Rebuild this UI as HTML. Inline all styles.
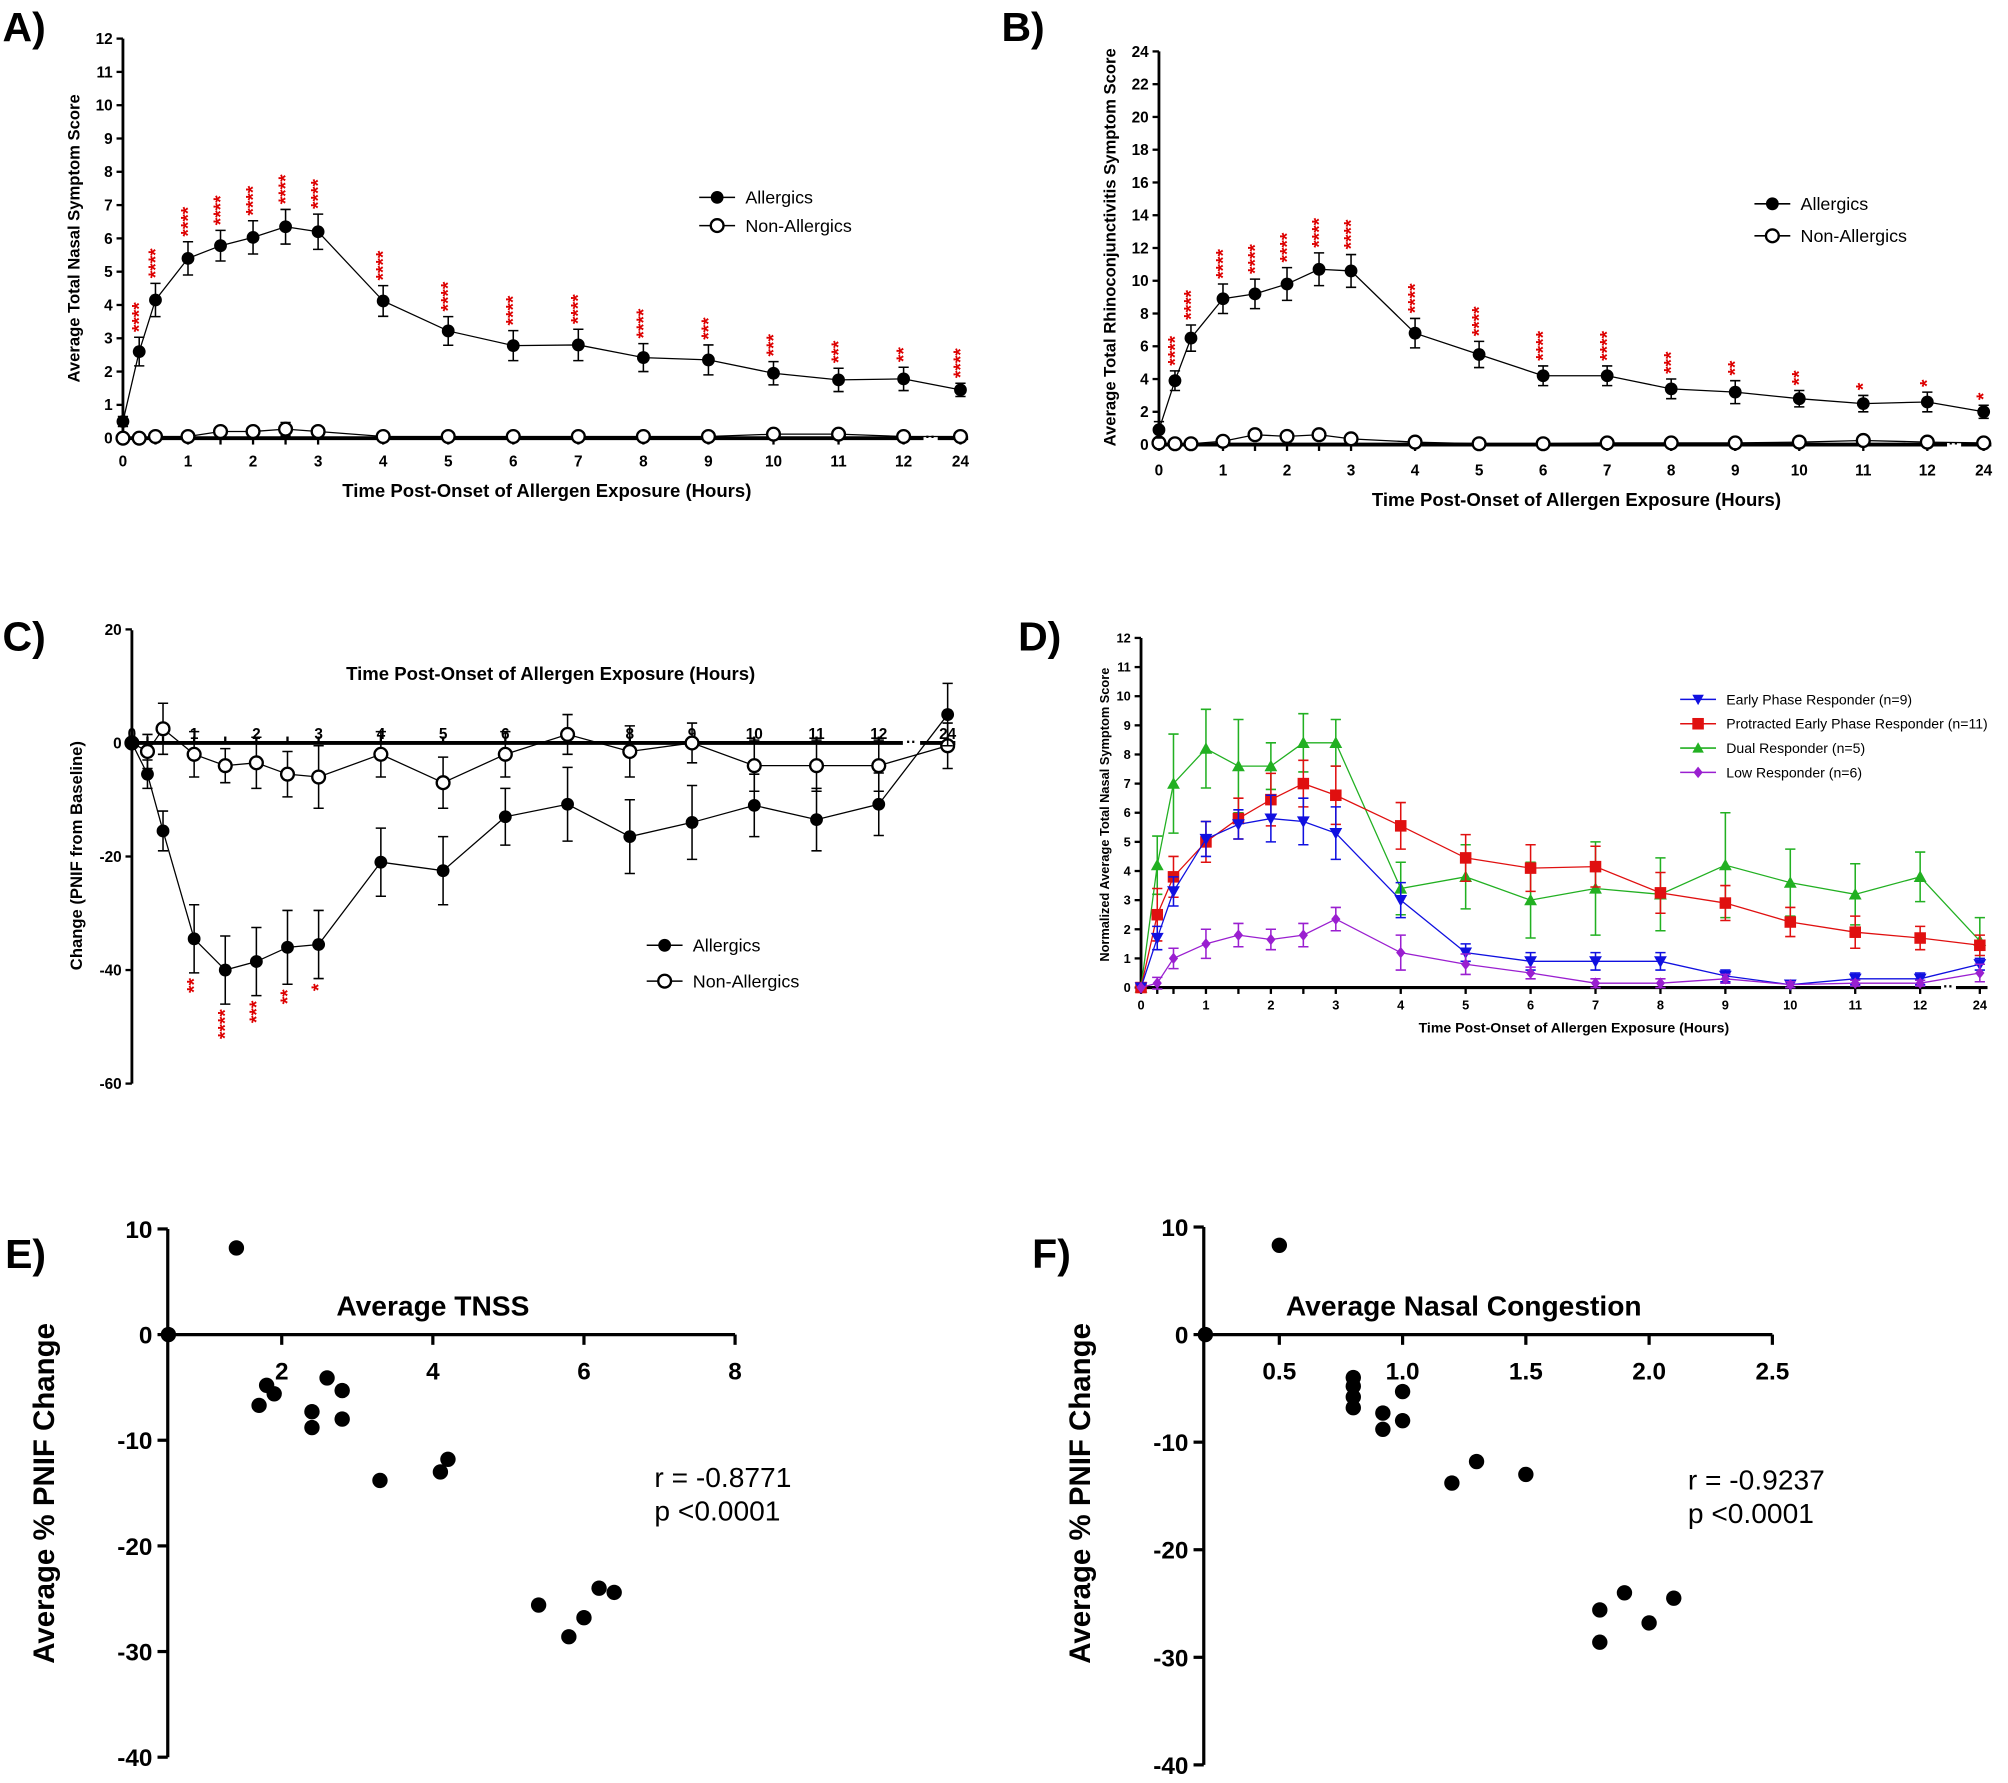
<!DOCTYPE html>
<html><head><meta charset="utf-8"><style>
html,body{margin:0;padding:0;background:#fff}
svg{display:block;font-family:"Liberation Sans",Arial,sans-serif}
</style></head><body>
<svg id="fig" width="2008" height="1783" viewBox="0 0 1568 1392" xmlns="http://www.w3.org/2000/svg"></svg>
<script>
// ---------- data ----------
const timesHrs = [0,0.25,0.5,1,1.5,2,2.5,3,4,5,6,7,8,9,10,11,12,24];
const timeTickLabels = ['0','1','2','3','4','5','6','7','8','9','10','11','12','24'];
// Panel A
const aAllergic = [0.5,2.6,4.15,5.4,5.78,6.03,6.35,6.2,4.12,3.22,2.78,2.8,2.42,2.35,1.95,1.75,1.78,1.45];
const aAllergicErr = [0.15,0.43,0.5,0.5,0.46,0.5,0.52,0.53,0.46,0.43,0.45,0.47,0.42,0.45,0.35,0.35,0.35,0.2];
const aNon = [0,0,0.05,0.05,0.2,0.2,0.27,0.2,0.05,0.05,0.05,0.05,0.05,0.05,0.12,0.12,0.05,0.05];
const aNonErr = [0,0,0,0.05,0.1,0.1,0.2,0.12,0,0,0,0,0,0,0.05,0.05,0,0];
const aStars = [0,4,4,4,4,4,4,4,4,4,4,4,4,3,3,3,2,4];
const aYTicks = [0,1,2,3,4,5,6,7,8,9,10,11,12];
// Panel B
const bAllergic = [0.9,3.9,6.5,8.9,9.2,9.8,10.7,10.6,6.8,5.5,4.2,4.2,3.4,3.2,2.8,2.5,2.6,2.0];
const bAllergicErr = [0.5,0.6,0.8,0.9,0.9,1.0,1.0,1.0,0.9,0.8,0.6,0.6,0.6,0.7,0.5,0.5,0.6,0.4];
const bNon = [0.1,0.05,0.05,0.2,0.6,0.5,0.6,0.35,0.15,0.05,0.05,0.1,0.1,0.1,0.15,0.25,0.15,0.1];
const bNonErr = [0.1,0,0,0.1,0.25,0.2,0.3,0.15,0.1,0,0,0.05,0.05,0.05,0.1,0.1,0.1,0];
const bStars = [0,4,4,4,4,4,4,4,4,4,4,4,3,2,2,1,1,1];
const bYTicks = [0,2,4,6,8,10,12,14,16,18,20,22,24];
// Panel C
const cAllergic = [0,-5.5,-15.5,-34.5,-40,-38.5,-36,-35.5,-21,-22.5,-13,-10.8,-16.5,-14,-11,-13.5,-10.8,5];
const cAllergicErr = [0,2.5,3.5,6,6,6,6.5,6,6,6,5,6.5,6.5,6.5,5.5,5.5,5.5,5.5];
const cNon = [0,-1.5,2.5,-2,-4,-3.5,-5.5,-6,-2,-7,-2,1.5,-1.5,0,-4,-4,-4,-0.5];
const cNonErr = [0,3,4.5,4,3,4.5,4,5.5,4,4.5,4,3.5,4.5,3.5,4.5,4.5,4.5,4];
const cStars = [0,0,0,2,4,3,2,1,0,0,0,0,0,0,0,0,0,0];
const cYTicks = [20,0,-20,-40,-60];
// Panel D
const dEarly = [0,1.7,3.3,5.1,5.6,5.8,5.7,5.3,3.0,1.2,0.9,0.9,0.9,0.4,0.1,0.3,0.3,0.8];
const dEarlyErr = [0,0.4,0.5,0.6,0.5,0.8,0.8,0.9,0.6,0.3,0.3,0.3,0.3,0.2,0.1,0.2,0.2,0.2];
const dProtracted = [0,2.5,3.8,5.0,5.8,6.45,7.0,6.6,5.55,4.45,4.1,4.15,3.25,2.9,2.25,1.9,1.7,1.45];
const dProtractedErr = [0,0.9,0.7,0.7,0.7,0.9,0.8,1.0,0.8,0.8,0.8,0.7,0.7,0.6,0.5,0.55,0.4,0.35];
const dDual = [0,4.2,7.0,8.2,7.6,7.6,8.4,8.4,3.4,3.8,3.0,3.4,3.2,4.2,3.6,3.2,3.8,1.6];
const dDualErr = [0,1.0,1.7,1.35,1.6,0.8,1.0,0.8,0.9,1.1,1.3,1.6,1.25,1.8,1.15,1.05,0.85,0.8];
const dLow = [0,0.15,1.0,1.5,1.8,1.65,1.8,2.35,1.2,0.8,0.5,0.15,0.15,0.3,0.1,0.15,0.15,0.5];
const dLowErr = [0,0.2,0.35,0.5,0.4,0.35,0.4,0.4,0.6,0.35,0.2,0.15,0.15,0.15,0.1,0.1,0.1,0.3];
const dYTicks = [0,1,2,3,4,5,6,7,8,9,10,11,12];
// Panel E
const eTnss = [1.4,0.5,1.8,1.9,1.7,2.4,2.4,2.6,2.8,2.8,3.3,4.1,4.2,5.4,5.8,6.0,6.2,6.4];
const ePnif = [8.2,0,-4.8,-5.6,-6.7,-7.3,-8.8,-4.1,-5.3,-8,-13.8,-13,-11.8,-25.6,-28.6,-26.8,-24,-24.4];
const eXTicks = [2,4,6,8];
const eYTicks = [10,0,-10,-20,-30,-40];
// Panel F
const fCong = [0.5,0.2,0.8,0.8,0.8,0.8,0.92,0.92,1.0,1.0,1.2,1.3,1.5,1.8,1.8,1.9,2.0,2.1];
const fPnif = [8.3,0,-4,-4.8,-5.8,-6.8,-7.3,-8.8,-5.3,-8,-13.8,-11.8,-13,-25.6,-28.6,-24,-26.8,-24.5];
const fXTicks = [0.5,1.0,1.5,2.0,2.5];
const fYTicks = [10,0,-10,-20,-30,-40];

// ---------- helpers ----------
const NS='http://www.w3.org/2000/svg';
const svg=document.getElementById('fig');
function mk(tag,attrs,parent,text){const e=document.createElementNS(NS,tag);for(const k in attrs)e.setAttribute(k,attrs[k]);if(text!==undefined)e.textContent=text;(parent||svg).appendChild(e);return e;}
function grp(name,parent){const g=mk('g',{},parent||svg);


return g;}
function timeScale(x0,pxh,x24){return t=>t<=12?x0+t*pxh:x24;}
function lin(v0,p0,v1,p1){return v=>p0+(v-v0)*(p1-p0)/(v1-v0);}

function marker(g,type,x,y,r,color){
  let e;
  if(type==='filled') e=mk('circle',{cx:x,cy:y,r:r,fill:'#000'},g);
  else if(type==='open') e=mk('circle',{cx:x,cy:y,r:r,fill:'#fff',stroke:'#000','stroke-width':1.8},g);
  else if(type==='tri-down') e=mk('polygon',{points:`${x-r},${y-r*0.8} ${x+r},${y-r*0.8} ${x},${y+r}`,fill:color},g);
  else if(type==='tri-up') e=mk('polygon',{points:`${x-r},${y+r*0.8} ${x+r},${y+r*0.8} ${x},${y-r}`,fill:color},g);
  else if(type==='square') e=mk('rect',{x:x-r,y:y-r,width:2*r,height:2*r,fill:color},g);
  else if(type==='diamond') e=mk('polygon',{points:`${x},${y-r} ${x+r*0.8},${y} ${x},${y+r} ${x-r*0.8},${y}`,fill:color},g);
  return e;
}

function series(parent,name,vals,errs,xs,ys,type,color,r,lw){
  const g=grp(name,parent);
  let d='';
  vals.forEach((v,i)=>{
    const X=xs(timesHrs[i]),Y=ys(v);
    if(i===0)d+=`M${X},${Y}`;
    else if(timesHrs[i]===24){const Xp=xs(timesHrs[i-1]);const Xb=Xp+(X-Xp)*0.45;d+=`M${X-(X-Xp)*0.2},${ys(vals[i-1]+(v-vals[i-1])*0.8)}L${X},${Y}`;}
    else d+=`L${X},${Y}`;
  });
  // simpler continuous line with gap
  let d2='';
  vals.forEach((v,i)=>{const X=xs(timesHrs[i]),Y=ys(v);d2+=(i===0?'M':'L')+X+','+Y;});
  const ln=mk('path',{d:d2,fill:'none',stroke:color,'stroke-width':lw},g);
  
  
  vals.forEach((v,i)=>{
    const X=xs(timesHrs[i]),Y=ys(v),e=errs[i];
    if(e>0){
      const eb=mk('path',{d:`M${X},${ys(v+e)}V${ys(v-e)}M${X-4},${ys(v+e)}H${X+4}M${X-4},${ys(v-e)}H${X+4}`,stroke:color,'stroke-width':1.2,fill:'none'},g);
      
      
    }
    const m=marker(g,type,X,Y,r,color);
    
    
  });
  return g;
}

function stars(parent,counts,vals,errs,xs,ys,above){
  const g=grp('significance-stars',parent);
  counts.forEach((c,i)=>{
    if(!c)return;
    const X=xs(timesHrs[i]);
    const s='*'.repeat(c);
    let yStart = above? ys(vals[i]+errs[i])-4 : ys(vals[i]-errs[i])+4;
    const t=mk('text',{x:0,y:0,fill:'#d00','font-size':15,'font-weight':'bold',
      transform:`translate(${X+5},${yStart}) rotate(-90)`,'text-anchor':above?'start':'end'},g,s);
    
    
  });
}

function letter(txt,x,y){const t=mk('text',{x:x,y:y,'font-size':32,'font-weight':'bold'},svg,txt);

}

function timeAxis(g,xs,yAxis,x0,yTop,ys,yTicks,opts){
  // y axis
  const ya=grp('y-axis',g);
  mk('line',{x1:x0,y1:opts.yAxisTop,x2:x0,y2:opts.yAxisBottom,stroke:'#000','stroke-width':2.2},ya);
  yTicks.forEach(v=>{const Y=ys(v);mk('line',{x1:x0-5,y1:Y,x2:x0,y2:Y,stroke:'#000','stroke-width':1.8},ya);
    const t=mk('text',{x:x0-8,y:Y+opts.fs*0.35,'text-anchor':'end','font-size':opts.fs,'font-weight':'bold'},ya,String(v));
    
    });
  // x axis
  const xa=grp('x-axis',g);
  const x12=xs(12),x24=xs(24);
  mk('line',{x1:x0,y1:yAxis,x2:x12+(x24-x12)*0.35,y2:yAxis,stroke:'#000','stroke-width':opts.xw},xa);
  mk('line',{x1:x12+(x24-x12)*0.6,y1:yAxis,x2:x24+6,y2:yAxis,stroke:'#000','stroke-width':opts.xw},xa);
  mk('text',{x:x12+(x24-x12)*0.47,y:yAxis+3,'text-anchor':'middle','font-size':12,'font-weight':'bold'},xa,'··');
  timesHrs.forEach(t=>{const X=xs(t);mk('line',{x1:X,y1:yAxis,x2:X,y2:yAxis+opts.tickDir*5,stroke:'#000','stroke-width':1.8},xa);});
  timeTickLabels.forEach(l=>{const X=xs(Number(l));
    const t=mk('text',{x:X,y:yAxis+opts.labOff,'text-anchor':'middle','font-size':opts.fs,'font-weight':'bold'},xa,l);
    
    });
}

function axisTitle(g,txt,x,y,fs,rot,name){
  const t=mk('text',{x:0,y:0,'text-anchor':'middle','font-size':fs,'font-weight':'bold',transform:`translate(${x},${y})${rot?' rotate(-90)':''}`},g,txt);
  
  
}

function legend(g,items,x,y,dy,fs,r){
  const lg=grp('legend',g);
  items.forEach((it,i)=>{
    const Y=y+i*dy;
    const e=grp('legend-entry',lg);
    mk('line',{x1:x-14,y1:Y,x2:x+14,y2:Y,stroke:it.color,'stroke-width':1.2},e);
    marker(e,it.type,x,Y,r,it.color);
    mk('text',{x:x+22,y:Y+fs*0.35,'font-size':fs},e,it.label);
  });
}

// ---------- Panel A ----------
(function(){
  const g=grp('panel-a-tnss-chart');
  const xs=timeScale(96,50.8,750), ys=lin(0,342,12,30);
  letter('A)',2,32);
  timeAxis(g,xs,342,96,30,ys,aYTicks,{yAxisTop:30,yAxisBottom:342,fs:12,xw:3,tickDir:1,labOff:22});
  series(g,'non-allergics-series',aNon,aNonErr,xs,ys,'open','#000',5,1);
  series(g,'allergics-series',aAllergic,aAllergicErr,xs,ys,'filled','#000',5,1);
  stars(g,aStars,aAllergic,aAllergicErr,xs,ys,true);
  axisTitle(g,'Average Total Nasal Symptom Score',62,186,13,true,'y-axis-title');
  axisTitle(g,'Time Post-Onset of Allergen Exposure (Hours)',427,388,14.5,false,'x-axis-title');
  legend(g,[{type:'filled',color:'#000',label:'Allergics'},{type:'open',color:'#000',label:'Non-Allergics'}],560,154,22,14,5);
})();
// ---------- Panel B ----------
(function(){
  const g=grp('panel-b-trss-chart');
  const xs=timeScale(905,50,1549), ys=lin(0,347,24,40);
  letter('B)',782,32);
  timeAxis(g,xs,347,905,40,ys,bYTicks,{yAxisTop:40,yAxisBottom:347,fs:12,xw:3,tickDir:1,labOff:24});
  series(g,'non-allergics-series',bNon,bNonErr,xs,ys,'open','#000',5,1);
  series(g,'allergics-series',bAllergic,bAllergicErr,xs,ys,'filled','#000',5,1);
  stars(g,bStars,bAllergic,bAllergicErr,xs,ys,true);
  axisTitle(g,'Average Total Rhinoconjunctivitis Symptom Score',871,193,13,true,'y-axis-title');
  axisTitle(g,'Time Post-Onset of Allergen Exposure (Hours)',1231,395,14.5,false,'x-axis-title');
  legend(g,[{type:'filled',color:'#000',label:'Allergics'},{type:'open',color:'#000',label:'Non-Allergics'}],1384,159,25,14,5);
})();
// ---------- Panel C ----------
(function(){
  const g=grp('panel-c-pnif-chart');
  const xs=timeScale(103,48.6,740), ys=lin(0,580,-60,846);
  letter('C)',2,508);
  timeAxis(g,xs,580,103,492,ys,cYTicks,{yAxisTop:492,yAxisBottom:846,fs:12,xw:3,tickDir:-1,labOff:-3});
  series(g,'non-allergics-series',cNon,cNonErr,xs,ys,'open','#000',5,1);
  series(g,'allergics-series',cAllergic,cAllergicErr,xs,ys,'filled','#000',5,1);
  stars(g,cStars,cAllergic,cAllergicErr,xs,ys,false);
  axisTitle(g,'Change (PNIF from Baseline)',64,668,13,true,'y-axis-title');
  axisTitle(g,'Time Post-Onset of Allergen Exposure (Hours)',430,531,14.5,false,'x-axis-title');
  legend(g,[{type:'filled',color:'#000',label:'Allergics'},{type:'open',color:'#000',label:'Non-Allergics'}],519,738,28,14,5);
})();
// ---------- Panel D ----------
(function(){
  const g=grp('panel-d-responder-chart');
  const xs=timeScale(891,50.7,1546), ys=lin(0,771,12,498);
  letter('D)',795,508);
  timeAxis(g,xs,771,891,498,ys,dYTicks,{yAxisTop:498,yAxisBottom:771,fs:10,xw:2.5,tickDir:1,labOff:17});
  series(g,'dual-responder-series',dDual,dDualErr,xs,ys,'tri-up','#22b022',5,1);
  series(g,'protracted-responder-series',dProtracted,dProtractedErr,xs,ys,'square','#e01010',4.5,1);
  series(g,'early-responder-series',dEarly,dEarlyErr,xs,ys,'tri-down','#1010e0',5,1);
  series(g,'low-responder-series',dLow,dLowErr,xs,ys,'diamond','#9a1fd0',4.5,1);
  axisTitle(g,'Normalized Average Total Nasal Symptom Score',866,636,10,true,'y-axis-title');
  axisTitle(g,'Time Post-Onset of Allergen Exposure (Hours)',1229,806,11,false,'x-axis-title');
  legend(g,[{type:'tri-down',color:'#1010e0',label:'Early Phase Responder (n=9)'},{type:'square',color:'#e01010',label:'Protracted Early Phase Responder (n=11)'},{type:'tri-up',color:'#22b022',label:'Dual Responder (n=5)'},{type:'diamond',color:'#9a1fd0',label:'Low Responder (n=6)'}],1326,546,19,11,4.5);
})();
// ---------- scatter panels ----------
function scatter(name,lab,lx,xv,yv,xs,ys,x0,xTicks,yTicks,xTitle,xtx,r,p,rx,ry,xEnd,fmt){
  const g=grp(name);
  letter(lab,lx,990);
  const ya=grp('y-axis',g);
  mk('line',{x1:x0,y1:ys(10),x2:x0,y2:ys(-40),stroke:'#000','stroke-width':2.5},ya);
  yTicks.forEach(v=>{const Y=ys(v);mk('line',{x1:x0-8,y1:Y,x2:x0,y2:Y,stroke:'#000','stroke-width':2.5},ya);
    const t=mk('text',{x:x0-12,y:Y+7,'text-anchor':'end','font-size':19,'font-weight':'bold'},ya,String(v));
    
    });
  const xa=grp('x-axis',g);
  mk('line',{x1:x0,y1:ys(0),x2:xEnd,y2:ys(0),stroke:'#000','stroke-width':2.5},xa);
  xTicks.forEach(v=>{const X=xs(v);mk('line',{x1:X,y1:ys(0),x2:X,y2:ys(0)+8,stroke:'#000','stroke-width':2.5},xa);
    const t=mk('text',{x:X,y:ys(0)+35,'text-anchor':'middle','font-size':19,'font-weight':'bold'},xa,fmt(v));
    
    });
  axisTitle(g,xTitle,xtx,1027,22,false,'x-axis-title');
  axisTitle(g,'Average % PNIF Change',x0-89,1166,23,true,'y-axis-title');
  const pts=grp('scatter-points',g);
  xv.forEach((v,i)=>{const c=mk('circle',{cx:xs(v),cy:ys(yv[i]),r:6,fill:'#000'},pts);
    
    });
  const st=mk('text',{x:rx,y:ry,'font-size':22},g);
  
  
  mk('tspan',{x:rx,dy:0},st,r);
  mk('tspan',{x:rx,dy:26},st,p);
}
scatter('panel-e-tnss-scatter','E)',4,eTnss,ePnif,lin(2,220,8,574),lin(0,1042,-40,1372),131,eXTicks,eYTicks,'Average TNSS',338,'r = -0.8771','p <0.0001',511,1161,574,v=>String(v));
scatter('panel-f-congestion-scatter','F)',806,fCong,fPnif,lin(0.5,999,2.5,1384),lin(0,1042,-40,1378),940,fXTicks,fYTicks,'Average Nasal Congestion',1143,'r = -0.9237','p <0.0001',1318,1163,1384,v=>v.toFixed(1));
</script>
</body></html>
